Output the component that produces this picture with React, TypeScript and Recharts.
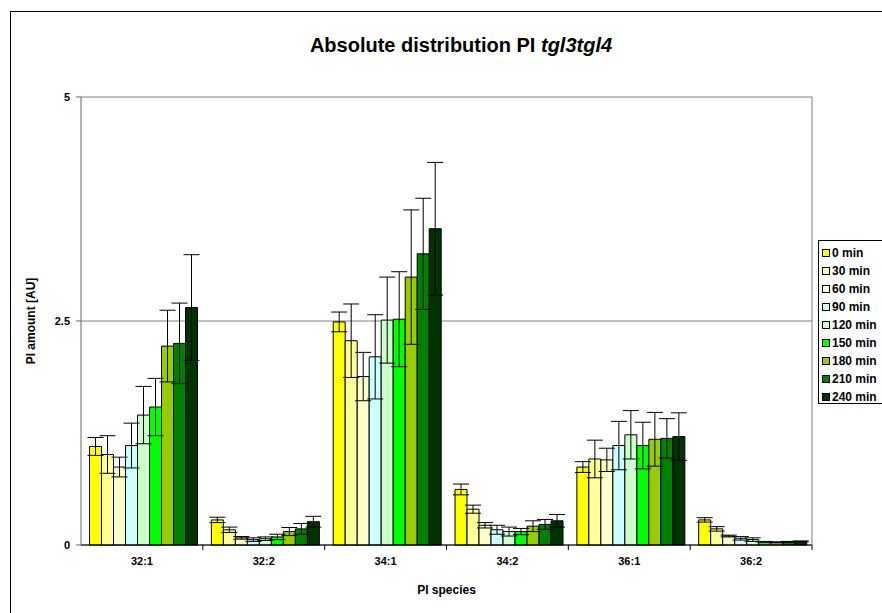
import React from 'react';
import {
  BarChart,
  Bar,
  XAxis,
  YAxis,
  CartesianGrid,
  ErrorBar,
} from 'recharts';

const categories = ['32:1', '32:2', '34:1', '34:2', '36:1', '36:2'];
const seriesNames = ['0 min', '30 min', '60 min', '90 min', '120 min', '150 min', '180 min', '210 min', '240 min'];
const seriesColors = ['#FFFF00', '#FFFF99', '#FFFFCC', '#CCFFFF', '#CCFFCC', '#00FF00', '#99CC00', '#008000', '#003300'];

// one array per time point, one value per PI species
const min0 = [1.1, 0.28, 2.49, 0.62, 0.87, 0.28];
const min30 = [1.01, 0.17, 2.28, 0.4, 0.96, 0.18];
const min60 = [0.87, 0.08, 1.88, 0.22, 0.95, 0.1];
const min90 = [1.11, 0.06, 2.1, 0.17, 1.11, 0.075];
const min120 = [1.45, 0.07, 2.51, 0.15, 1.23, 0.06];
const min150 = [1.54, 0.09, 2.52, 0.15, 1.11, 0.035];
const min180 = [2.22, 0.15, 2.99, 0.21, 1.18, 0.03];
const min210 = [2.25, 0.18, 3.25, 0.23, 1.19, 0.035];
const min240 = [2.65, 0.26, 3.53, 0.27, 1.21, 0.04];

const err0 = [0.1, 0.03, 0.11, 0.06, 0.06, 0.025];
const err30 = [0.21, 0.03, 0.41, 0.045, 0.21, 0.025];
const err60 = [0.11, 0.015, 0.27, 0.03, 0.13, 0.01];
const err90 = [0.25, 0.02, 0.47, 0.05, 0.27, 0.02];
const err120 = [0.32, 0.02, 0.48, 0.05, 0.27, 0.02];
const err150 = [0.32, 0.03, 0.53, 0.035, 0.26, 0.005];
const err180 = [0.4, 0.045, 0.75, 0.06, 0.3, 0.005];
const err210 = [0.45, 0.06, 0.62, 0.055, 0.22, 0.005];
const err240 = [0.59, 0.06, 0.74, 0.07, 0.265, 0.005];

const yTicks = [0, 2.5, 5];

const seriesValues = [min0, min30, min60, min90, min120, min150, min180, min210, min240];
const seriesErrors = [err0, err30, err60, err90, err120, err150, err180, err210, err240];

const data = categories.map((name, i) => {
  const row: Record<string, string | number> = { name };
  seriesValues.forEach((vals, s) => {
    row[`s${s}`] = vals[i];
    row[`e${s}`] = seriesErrors[s][i];
  });
  return row;
});

const W = 882;
const H = 613;
const M = { top: 97, right: 70, left: 41, bottom: 38 };
const Y_AXIS_W = 40;
const PLOT_W = W - M.left - Y_AXIS_W - M.right;
const BAND = PLOT_W / categories.length;

const font = 'Arial, "Liberation Sans", sans-serif';

function CategoryTick(props: any) {
  const { x, y, payload, index } = props;
  const axisY = y - 12;
  const half = BAND / 2;
  return (
    <g>
      {index > 0 && (
        <line x1={x - half} x2={x - half} y1={axisY} y2={axisY + 5} stroke="#000" />
      )}
      {index === categories.length - 1 && (
        <line x1={x + half} x2={x + half} y1={axisY} y2={axisY + 5} stroke="#000" />
      )}
      <text x={x} y={y} dy="0.71em" textAnchor="middle" fontSize={11} fontWeight="bold" fontFamily={font} fill="#000">
        {payload.value}
      </text>
    </g>
  );
}

export default function App() {
  return (
    <div style={{ position: 'fixed', left: 0, top: 0, width: W, height: H, background: '#fff', overflow: 'hidden', fontFamily: font }}>
      <div style={{ position: 'absolute', left: 10, top: 11, width: 920, height: 700, border: '1px solid #000' }} />
      <div
        style={{
          position: 'absolute',
          left: 461,
          top: 34,
          transform: 'translateX(-50%)',
          fontSize: 20,
          fontWeight: 'bold',
          whiteSpace: 'nowrap',
          color: '#000',
        }}
      >
        Absolute distribution PI <i>tgl3tgl4</i>
      </div>
      <div style={{ position: 'absolute', left: 0, top: 0 }}>
        <BarChart width={W} height={H} data={data} margin={M} barGap={0} barCategoryGap="7%">
          <CartesianGrid vertical={true} verticalPoints={[W - M.right]} stroke="#808080" />
          <XAxis
            dataKey="name"
            height={30}
            tickLine={false}
            tickSize={5}
            tickMargin={7}
            stroke="#000"
            tick={<CategoryTick />}
            label={{ value: 'PI species', position: 'bottom', offset: 10, style: { fontSize: 12, fontWeight: 'bold', fontFamily: font, fill: '#000' } }}
          />
          <YAxis
            width={Y_AXIS_W}
            domain={[0, 5]}
            ticks={yTicks}
            tickSize={5}
            tickMargin={6}
            stroke="#666"
            tick={{ fontSize: 11, fontWeight: 'bold', fontFamily: font, fill: '#000' }}
            label={{ value: 'PI amount [AU]', angle: -90, position: 'left', offset: 10, textAnchor: 'middle', style: { fontSize: 12, fontWeight: 'bold', fontFamily: font, fill: '#000', textAnchor: 'middle' } }}
          />
          {seriesNames.map((n, s) => (
            <Bar key={n} dataKey={`s${s}`} name={n} fill={seriesColors[s]} stroke="#000" strokeWidth={1} isAnimationActive={false}>
              <ErrorBar dataKey={`e${s}`} width={8} stroke="#000" strokeWidth={1} />
            </Bar>
          ))}
        </BarChart>
      </div>
      <div
        style={{
          position: 'absolute',
          left: 818,
          top: 240,
          width: 90,
          height: 164,
          border: '1px solid #000',
          background: '#fff',
          boxSizing: 'border-box',
          paddingTop: 3,
        }}
      >
        {seriesNames.map((n, s) => (
          <div key={n} style={{ display: 'flex', alignItems: 'center', height: 18, fontSize: 12, fontWeight: 'bold', whiteSpace: 'nowrap' }}>
            <span style={{ display: 'inline-block', width: 6, height: 6, marginLeft: 3, marginRight: 2, background: seriesColors[s], border: '1px solid #000' }} />
            {n}
          </div>
        ))}
      </div>
    </div>
  );
}
